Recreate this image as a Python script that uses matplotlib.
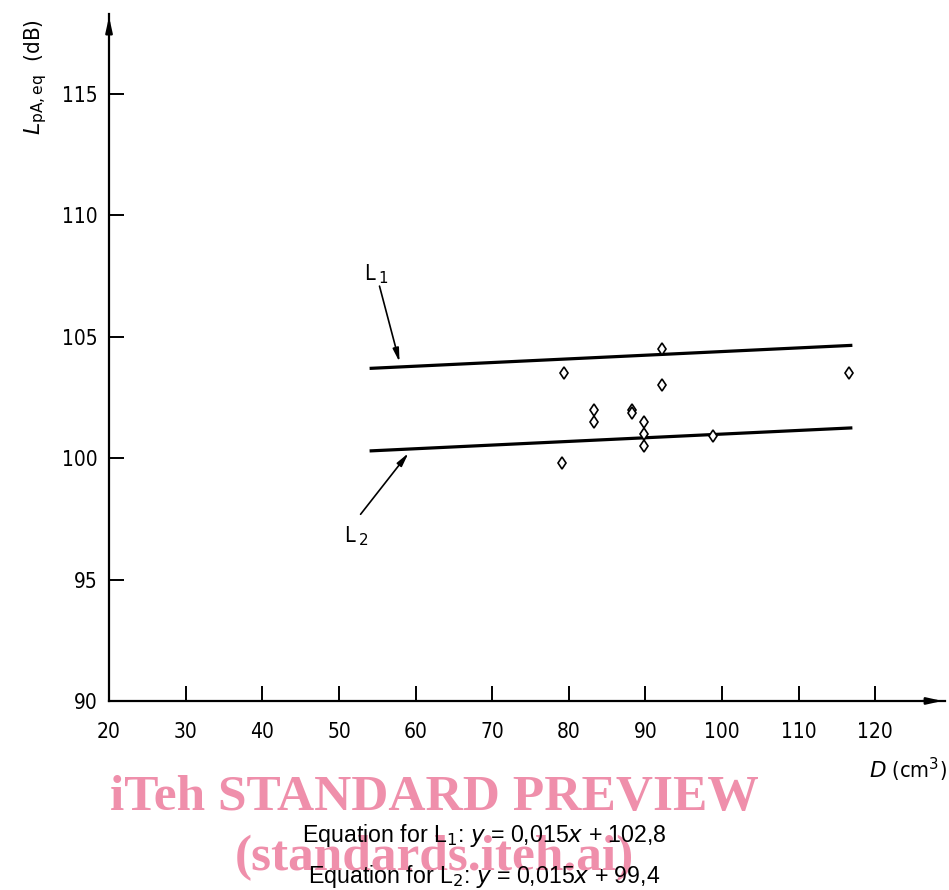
import matplotlib
matplotlib.use("Agg")
import matplotlib.pyplot as plt

plt.rcParams['font.family'] = ['DejaVu Sans']

# measured points, D (cm3) vs LpA,eq (dB)
d_vals = [92.1, 79.4, 116.5, 92.1, 83.3, 83.3, 88.2, 88.2, 89.8, 89.8, 89.8, 98.8, 79.1]
l_vals = [104.5, 103.5, 103.5, 103.0, 102.0, 101.5, 102.0, 101.85, 101.5, 101.0, 100.5, 100.9, 99.8]

# regression lines (end points)
l1_x = [54.0, 117.0]
l1_y = [103.7, 104.65]
l2_x = [54.0, 117.0]
l2_y = [100.3, 101.25]

x_ticks = [20, 30, 40, 50, 60, 70, 80, 90, 100, 110, 120]
y_ticks = [90, 95, 100, 105, 110, 115]

fig = plt.figure(figsize=(9.49, 8.9), dpi=100)
ax = fig.add_axes([0.1149, 0.2124, 0.881, 0.7719])
ax.set_xlim(20, 129.1)
ax.set_ylim(90, 118.3)

for s in ['top', 'right']:
    ax.spines[s].set_visible(False)
for s in ['left', 'bottom']:
    ax.spines[s].set_linewidth(1.6)

# arrow heads on axes
ax.annotate('', xy=(1.0, 0), xycoords='axes fraction', xytext=(0.97, 0),
            arrowprops=dict(arrowstyle='-|>,head_length=0.9,head_width=0.2', lw=1.6, color='black'))
ax.annotate('', xy=(0, 1.0), xycoords='axes fraction', xytext=(0, 0.97),
            arrowprops=dict(arrowstyle='-|>,head_length=0.9,head_width=0.2', lw=1.6, color='black'))

ax.set_xticks(x_ticks)
ax.set_yticks(y_ticks)
tick_font = dict(family='DejaVu Sans', stretch='condensed', size=15)
ax.set_xticklabels([str(t) for t in x_ticks], fontdict=tick_font)
ax.set_yticklabels([str(t) for t in y_ticks], fontdict=tick_font)
ax.tick_params(axis='both', direction='in', length=11, width=1.4)
ax.tick_params(axis='x', pad=15)
ax.tick_params(axis='y', pad=8)

ax.plot(l1_x, l1_y, color='black', lw=2.3, solid_capstyle='butt')
ax.plot(l2_x, l2_y, color='black', lw=2.3, solid_capstyle='butt')
ax.plot(d_vals, l_vals, linestyle='none', marker='d', markersize=6.5,
        markerfacecolor='white', markeredgecolor='black', markeredgewidth=1.2)

# line labels with arrows
ax.annotate('', xy=(58.0, 103.85), xytext=(55.2, 107.2),
            arrowprops=dict(arrowstyle='-|>,head_length=0.8,head_width=0.18', lw=1.2, color='black'))
ax.text(53.3, 107.6, r'L$\,_1$', fontsize=15.5, ha='left', va='center', stretch='condensed')
ax.annotate('', xy=(59.3, 100.3), xytext=(52.6, 97.6),
            arrowprops=dict(arrowstyle='-|>,head_length=0.8,head_width=0.18', lw=1.2, color='black'))
ax.text(50.6, 96.8, r'L$\,_2$', fontsize=15.5, ha='left', va='center', stretch='condensed')

# axis titles
fig.text(0.037, 0.914, r'$L_{\mathrm{pA,eq}}$  (dB)', rotation=90, ha='center', va='center',
         fontsize=16, stretch='condensed')
fig.text(0.998, 0.135, r'$D$ (cm$^3$)', ha='right', va='center', fontsize=15.5, stretch='condensed')

# watermark
fig.text(0.458, 0.103, 'iTeh STANDARD PREVIEW', ha='center', va='center', fontsize=37,
         family='Liberation Serif', weight='bold', color='#ef8fab')
fig.text(0.458, 0.036, '(standards.iteh.ai)', ha='center', va='center', fontsize=37,
         family='Liberation Serif', weight='bold', color='#ef8fab')

# equations
fig.text(0.51, 0.061, r'Equation for L$_1$: $\mathit{y}$ = 0,015$\mathit{x}$ + 102,8', ha='center',
         va='center', fontsize=16.7, family='Liberation Sans')
fig.text(0.51, 0.015, r'Equation for L$_2$: $\mathit{y}$ = 0,015$\mathit{x}$ + 99,4', ha='center',
         va='center', fontsize=16.7, family='Liberation Sans')

fig.savefig('out.png', dpi=100)
